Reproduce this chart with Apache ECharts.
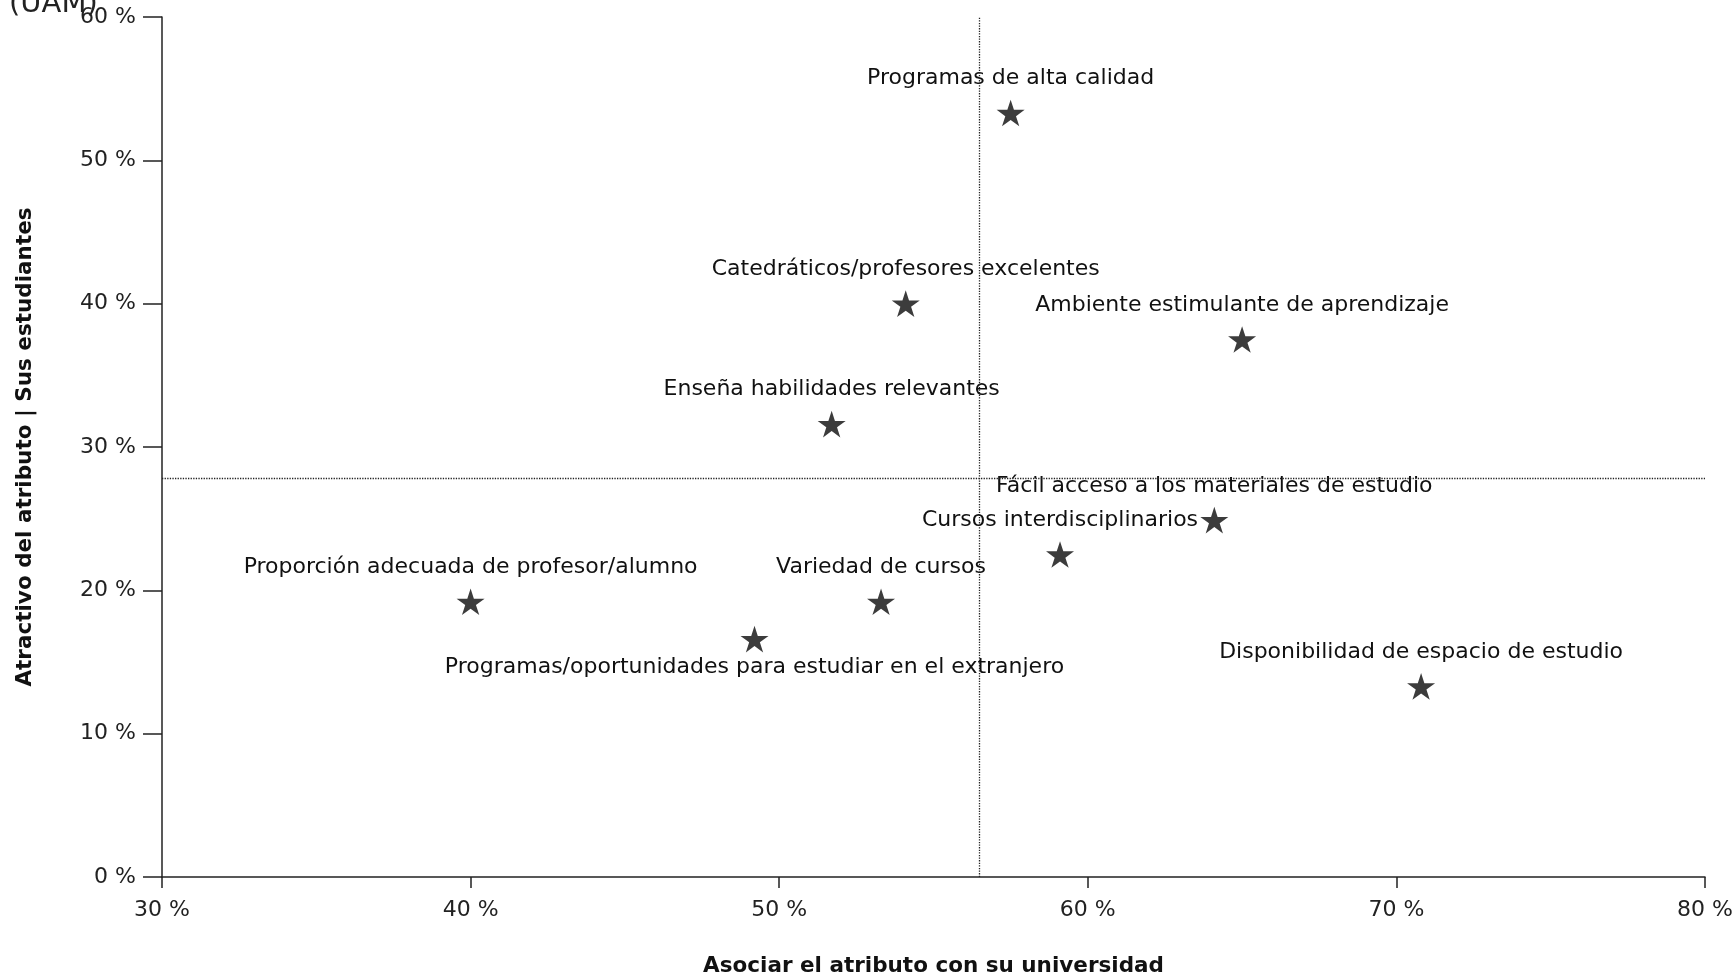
<!DOCTYPE html>
<html>
<head>
<meta charset="utf-8">
<script src="https://cdn.jsdelivr.net/npm/echarts@6/dist/echarts.min.js"></script>
<style>
  html, body { margin: 0; padding: 0; background: #fff; }
  #chart { width: 1736px; height: 977px; }
</style>
</head>
<body>
<div id="chart"></div>
<script>
// attributes
var names = [
    "Programas de alta calidad",
    "Catedráticos/profesores excelentes",
    "Ambiente estimulante de aprendizaje",
    "Enseña habilidades relevantes",
    "Fácil acceso a los materiales de estudio",
    "Cursos interdisciplinarios",
    "Proporción adecuada de profesor/alumno",
    "Variedad de cursos",
    "Programas/oportunidades para estudiar en el extranjero",
    "Disponibilidad de espacio de estudio"
];
// x: asociar el atributo con su universidad (%)
var asociar = [57.5, 54.1, 65.0, 51.7, 64.1, 59.1, 40.0, 53.3, 49.2, 70.8];
// y: atractivo del atributo (%)
var atractivo = [53.3, 40.0, 37.5, 31.6, 24.9, 22.5, 19.2, 19.2, 16.6, 13.3];

var xTicks = [30, 40, 50, 60, 70, 80];
var yTicks = [0, 10, 20, 30, 40, 50, 60];

var fontFam = "DejaVu Sans";
var star = "path://M50,0 L61.2,34.5 L97.6,34.5 L68.2,55.9 L79.4,90.5 L50,69.1 L20.6,90.5 L31.8,55.9 L2.4,34.5 L38.8,34.5 Z";

// mean lines
var meanX = 0, meanY = 0;
for (var i = 0; i < asociar.length; i++) {
    meanX += asociar[i];
    meanY += atractivo[i];
}
meanX = meanX / asociar.length;
meanY = meanY / atractivo.length;

var points = [];
for (var i = 0; i < names.length; i++) {
    var below = names[i].indexOf("extranjero") >= 0;
    points.push({
        name: names[i],
        value: [asociar[i], atractivo[i]],
        label: below ? { position: "bottom", distance: 4 } : { position: "top", distance: 10 }
    });
}

var myChart = echarts.init(document.getElementById("chart"));
var option = {
    animation: false,
    backgroundColor: "#fff",
    title: {
        text: "(UAM)",
        left: 9,
        top: -10,
        padding: 0,
        textStyle: { fontFamily: fontFam, fontSize: 29, fontWeight: "normal", color: "#222" }
    },
    grid: { left: 162, right: 31, top: 17, bottom: 100, outerBoundsMode: "none", containLabel: false },
    xAxis: {
        type: "value",
        min: xTicks[0],
        max: xTicks[xTicks.length - 1],
        interval: 10,
        name: "Asociar el atributo con su universidad",
        nameLocation: "middle",
        nameGap: 78,
        nameTextStyle: { fontFamily: fontFam, fontSize: 21.5, fontWeight: "bold", color: "#111" },
        axisLine: { show: true, onZero: false, lineStyle: { color: "#222", width: 1.5 } },
        axisTick: { show: true, length: 11, lineStyle: { color: "#222", width: 1.5 } },
        axisLabel: {
            margin: 22,
            fontFamily: fontFam, fontSize: 22, color: "#222",
            formatter: function (v) { return v + " %"; }
        },
        splitLine: { show: false }
    },
    yAxis: {
        type: "value",
        min: yTicks[0],
        max: yTicks[yTicks.length - 1],
        interval: 10,
        name: "Atractivo del atributo | Sus estudiantes",
        nameLocation: "middle",
        nameGap: 126,
        nameTextStyle: { fontFamily: fontFam, fontSize: 21.5, fontWeight: "bold", color: "#111" },
        axisLine: { show: true, onZero: false, lineStyle: { color: "#222", width: 1.5 } },
        axisTick: { show: true, length: 19, lineStyle: { color: "#222", width: 1.5 } },
        axisLabel: {
            margin: 26,
            fontFamily: fontFam, fontSize: 22, color: "#222",
            formatter: function (v) { return v + " %"; }
        },
        splitLine: { show: false }
    },
    series: [{
        type: "scatter",
        symbol: star,
        symbolSize: 28,
        symbolKeepAspect: true,
        itemStyle: { color: "#3c3c3c", opacity: 1 },
        label: {
            show: true,
            formatter: "{b}",
            fontFamily: fontFam,
            fontSize: 22,
            color: "#111"
        },
        data: points,
        markLine: {
            silent: true,
            symbol: ["none", "none"],
            label: { show: false },
            lineStyle: { type: "dotted", color: "#222", width: 1.3, opacity: 1 },
            data: [{ xAxis: meanX }, { yAxis: meanY }]
        },
        z: 2
    }]
};
myChart.setOption(option);
</script>
</body>
</html>
